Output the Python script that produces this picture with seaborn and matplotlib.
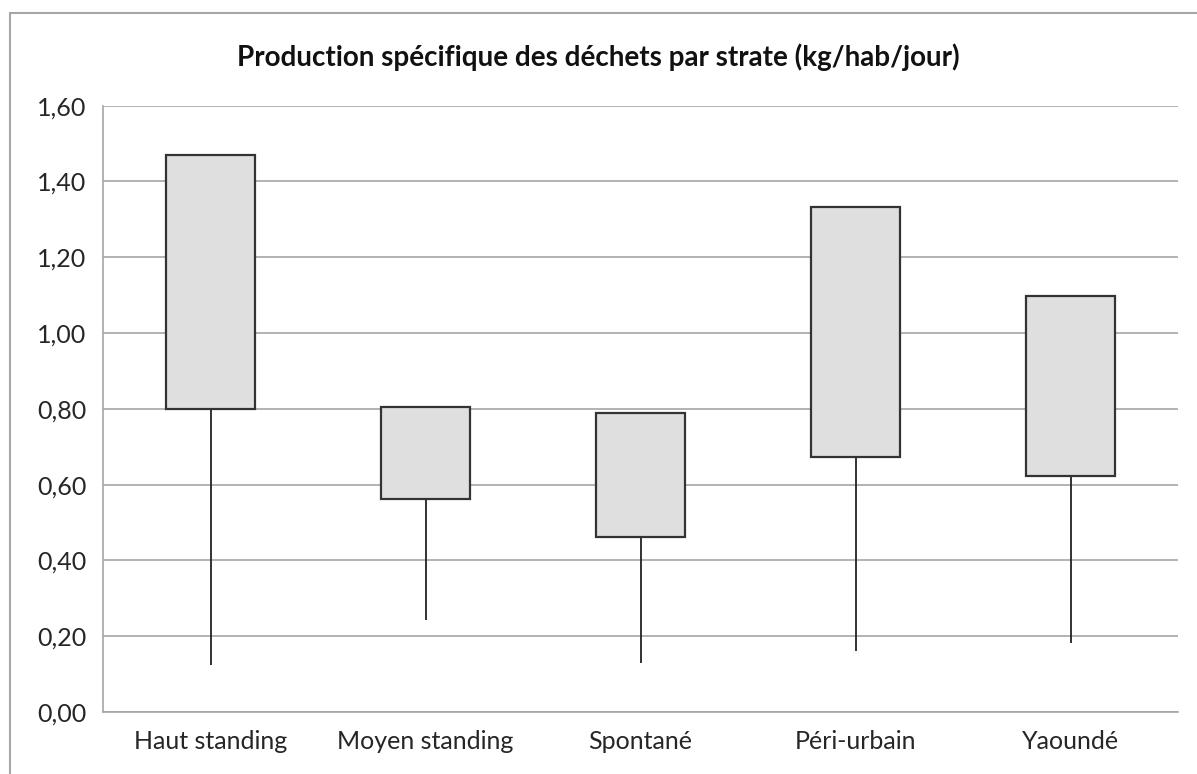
import numpy as np
import pandas as pd
import matplotlib
matplotlib.use("Agg")
import matplotlib.pyplot as plt
import matplotlib.patches as mpatches
from matplotlib.ticker import FuncFormatter
import seaborn as sns

strates = ["Haut standing", "Moyen standing", "Spontané", "Péri-urbain", "Yaoundé"]
minimum = [0.124, 0.244, 0.130, 0.161, 0.183]
bas = [0.800, 0.562, 0.461, 0.672, 0.624]
haut = [1.470, 0.806, 0.790, 1.333, 1.099]

df = pd.DataFrame({"strate": strates, "min": minimum, "bas": bas, "haut": haut})
df["ecart"] = df["haut"] - df["bas"]

sns.set_style("white")
plt.rcParams["font.family"] = ["Lato", "DejaVu Sans"]

fig = plt.figure(figsize=(11.97, 7.74), dpi=100)
ax = fig.add_axes([103 / 1197, 1 - 712 / 774, 1075 / 1197, (712 - 105.7) / 774])

ax.yaxis.grid(True, color="#a6a6a6", linewidth=1.2)
ax.set_axisbelow(True)

# moustaches (min -> bas de la boite)
ax.vlines(np.arange(len(df)), df["min"], df["bas"], color="#222222", linewidth=1.3, zorder=2)

sns.barplot(data=df, x="strate", y="ecart", bottom=df["bas"].values, ax=ax,
            color="#dfdfdf", width=0.41, edgecolor="#333333", linewidth=1.6,
            saturation=1, zorder=3)

ax.set_ylim(0, 1.6)
ax.set_xlim(-0.5, len(df) - 0.5)
ax.set_yticks(np.arange(0, 1.61, 0.2))
ax.yaxis.set_major_formatter(FuncFormatter(lambda v, p: f"{v:.2f}".replace(".", ",")))
ax.tick_params(axis="both", length=0, labelsize=18, colors="#262626")
ax.tick_params(axis="y", pad=12)
ax.tick_params(axis="x", pad=13)
ax.set_xlabel("")
ax.set_ylabel("")
for s in ["top", "right"]:
    ax.spines[s].set_visible(False)
for s in ["left", "bottom"]:
    ax.spines[s].set_color("#a6a6a6")
    ax.spines[s].set_linewidth(1.2)

fig.text(0.5, 1 - 57 / 774, "Production spécifique des déchets par strate (kg/hab/jour)",
         ha="center", va="center", fontsize=20, fontweight="bold", color="#111111")

border = mpatches.Rectangle((10 / 1197, -0.1), 1.2, 1.1 - 13 / 774, transform=fig.transFigure,
                            fill=False, edgecolor="#a6a6a6", linewidth=1.5)
fig.patches.append(border)

fig.savefig("out.png", dpi=100)
